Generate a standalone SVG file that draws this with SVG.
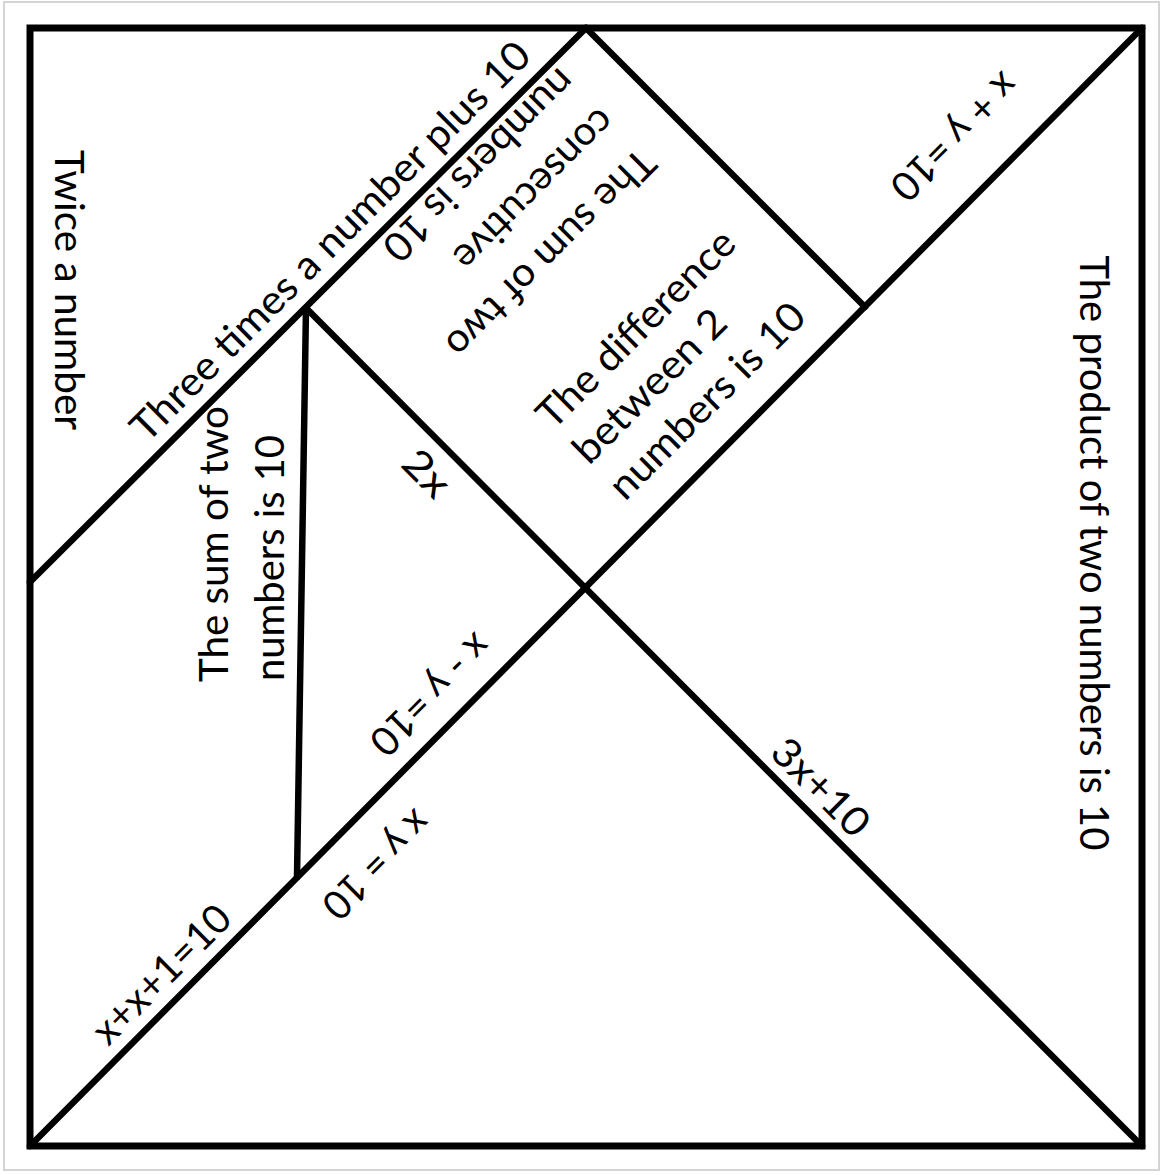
<svg xmlns="http://www.w3.org/2000/svg" width="1164" height="1175" viewBox="0 0 1164 1175">
<style>
.ln{stroke:#000;stroke-width:6.5;stroke-linecap:round;fill:none}
.t{font-family:Lato,"Open Sans","Liberation Sans",sans-serif;font-size:40px;fill:#000}
</style>
<rect x="0" y="0" width="1164" height="1175" fill="#fff"/>
<rect x="4" y="2" width="1155" height="1168" fill="none" stroke="#d4d4d4" stroke-width="2"/>
<g id="pieces">
<rect x="30" y="28" width="1112" height="1118" fill="none" stroke="#000" stroke-width="7"/>
<line class="ln" x1="30" y1="1146" x2="1142" y2="28"/>
<line class="ln" x1="30" y1="582" x2="586" y2="28"/>
<line class="ln" x1="586" y1="28" x2="865" y2="307"/>
<line class="ln" x1="306" y1="308" x2="1142" y2="1146"/>
<line class="ln" x1="306" y1="308" x2="297" y2="877"/>
</g>
<g id="labels">
<text class="t" transform="translate(65 290) rotate(90)" y="10" text-anchor="middle" textLength="280" lengthAdjust="spacingAndGlyphs">Twice a number</text>
<text class="t" transform="translate(333 244) rotate(-45)" y="10" text-anchor="middle" textLength="546" lengthAdjust="spacingAndGlyphs">Three times a number plus 10</text>
<text class="t" transform="translate(566 73) rotate(135)" y="10" textLength="253" lengthAdjust="spacingAndGlyphs">numbers is 10</text>
<text class="t" transform="translate(606 113) rotate(135)" y="10" textLength="210" lengthAdjust="spacingAndGlyphs">consecutive</text>
<text class="t" transform="translate(646 153) rotate(135)" y="10" textLength="277" lengthAdjust="spacingAndGlyphs">The sum of two</text>
<text class="t" transform="translate(546 424) rotate(-45)" y="10" textLength="262" lengthAdjust="spacingAndGlyphs">The difference</text>
<text class="t" transform="translate(582 459) rotate(-45)" y="10" textLength="199" lengthAdjust="spacingAndGlyphs">between 2</text>
<text class="t" transform="translate(618 495) rotate(-45)" y="10" textLength="259" lengthAdjust="spacingAndGlyphs">numbers is 10</text>
<text class="t" transform="translate(952 134) rotate(135)" y="10" text-anchor="middle" textLength="162" lengthAdjust="spacingAndGlyphs">x + y =10</text>
<text class="t" transform="translate(1090 553) rotate(90)" y="10" text-anchor="middle" textLength="595" lengthAdjust="spacingAndGlyphs">The product of two numbers is 10</text>
<text class="t" transform="translate(424 476) rotate(45)" y="10" text-anchor="middle" textLength="50" lengthAdjust="spacingAndGlyphs">2x</text>
<text class="t" transform="translate(818 790) rotate(45)" y="10" text-anchor="middle" textLength="121" lengthAdjust="spacingAndGlyphs">3x+10</text>
<text class="t" transform="translate(428 692) rotate(135)" y="10" text-anchor="middle" textLength="153" lengthAdjust="spacingAndGlyphs">x - y =10</text>
<text class="t" transform="translate(374 862) rotate(135)" y="10" text-anchor="middle" textLength="135" lengthAdjust="spacingAndGlyphs">x y = 10</text>
<text class="t" transform="translate(164 977) rotate(-45)" y="10" text-anchor="middle" textLength="178" lengthAdjust="spacingAndGlyphs">x+x+1=10</text>
<text class="t" transform="translate(218 682) rotate(-90)" y="10" textLength="276" lengthAdjust="spacingAndGlyphs">The sum of two</text>
<text class="t" transform="translate(274 681) rotate(-90)" y="10" textLength="246" lengthAdjust="spacingAndGlyphs">numbers is 10</text>
</g>
</svg>
